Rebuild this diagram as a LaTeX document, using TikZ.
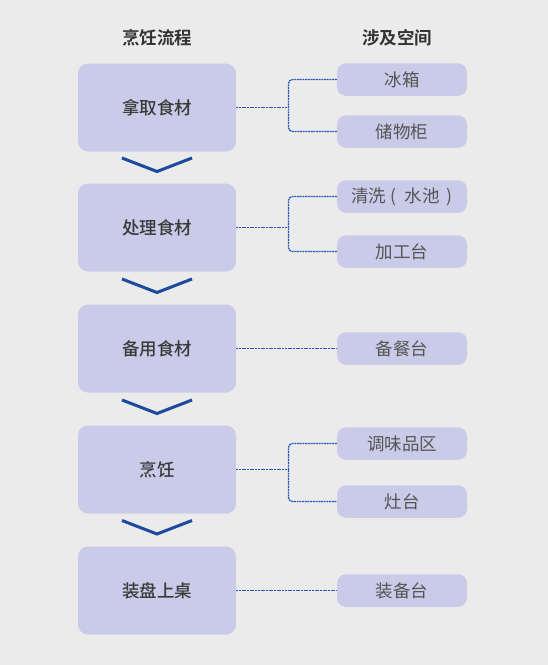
\documentclass[tikz,border=0pt]{standalone}
\usepackage{fontspec}
\setmainfont{Noto Sans CJK SC}
\newfontfamily\cjkbold{Noto Sans CJK SC}[UprightFont=* Bold]
\newfontfamily\cjkmed{Noto Sans CJK SC}[UprightFont=* Medium]
\definecolor{bg}{HTML}{EBEBEB}
\definecolor{boxfill}{HTML}{C9CBE9}
\definecolor{chev}{HTML}{1C4A9E}
\definecolor{conncol}{HTML}{2A56BA}
\definecolor{headtxt}{HTML}{333333}
\definecolor{lefttxt}{HTML}{3A3A3A}
\definecolor{righttxt}{HTML}{555555}
\tikzset{
  leftbox/.style={fill=boxfill, rounded corners=10pt, minimum width=158pt, minimum height=88pt, inner sep=0pt, text=lefttxt, font=\cjkmed\fontsize{17.5}{20}\selectfont},
  rightbox/.style={fill=boxfill, rounded corners=9pt, minimum width=130pt, minimum height=32.5pt, inner sep=0pt, text=righttxt, font=\fontsize{17.5}{20}\selectfont},
  header/.style={text=headtxt, font=\cjkbold\fontsize{17.5}{20}\selectfont, inner sep=0pt},
  chevron/.style={draw=chev, line width=3pt},
  conn/.style={draw=conncol, line width=1.3pt, dash pattern=on 2pt off 0.7pt},
}
\begin{document}
\begin{tikzpicture}[x=1pt,y=-1pt]
\fill[bg] (0,0) rectangle (548,665);
\useasboundingbox (0,0) rectangle (548,665);
% headers
\node[header] (h1) at (157,38) {烹饪流程};
\node[header] (h2) at (397,38) {涉及空间};
% left boxes
\node[leftbox] (L1) at (157,107.5) {拿取食材};
\node[leftbox] (L2) at (157,227.5) {处理食材};
\node[leftbox] (L3) at (157,348.5) {备用食材};
\node[leftbox] (L4) at (157,469.5) {烹饪};
\node[leftbox] (L5) at (157,590.5) {装盘上桌};
% chevrons
\foreach \y in {158,279,400,520.5}{
  \draw[chevron] (122,\y) -- (157,\y+13.5) -- (192,\y);
}
% right boxes
\node[rightbox] (R1a) at (402,79.5) {冰箱};
\node[rightbox] (R1b) at (402,131.5) {储物柜};
\node[rightbox] (R2a) at (402,196.5) {清洗\kern4pt(\kern9pt水池\kern7pt)};
\node[rightbox] (R2b) at (402,251.5) {加工台};
\node[rightbox] (R3) at (402,348.5) {备餐台};
\node[rightbox] (R4a) at (402,443.5) {调味品区};
\node[rightbox] (R4b) at (402,501.5) {灶台};
\node[rightbox] (R5) at (402,590.5) {装备台};
% connectors
\coordinate (J1) at (288.5,107.5);
\coordinate (J2) at (288.5,227.5);
\coordinate (J4) at (288.5,469.5);
\draw[conn] (L1.east) -- (J1);
\draw[conn, rounded corners=4pt] (R1a.west) -| (J1) |- (R1b.west);
\draw[conn] (L2.east) -- (J2);
\draw[conn, rounded corners=4pt] (R2a.west) -| (J2) |- (R2b.west);
\draw[conn] (L3.east) -- (R3.west);
\draw[conn] (L4.east) -- (J4);
\draw[conn, rounded corners=4pt] (R4a.west) -| (J4) |- (R4b.west);
\draw[conn] (L5.east) -- (R5.west);
\end{tikzpicture}
\end{document}
